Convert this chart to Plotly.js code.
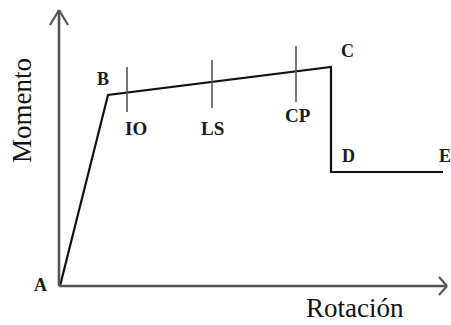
<!DOCTYPE html>
<html>
<head>
<meta charset="utf-8">
<script src="https://cdn.plot.ly/plotly-3.0.1.min.js"></script>
<style>html,body{margin:0;padding:0;background:#fff;}#chart{width:451px;height:325px;}</style>
</head>
<body>
<div id="chart"></div>
<script>
// Curve points A-E (rotation, moment)
const pointLabels = ['A', 'B', 'C', 'D', 'E'];
const rotation = [0, 0.48, 2.71, 2.71, 3.83];
const moment = [0, 1.91, 2.19, 1.14, 1.14];

// Performance levels
const levels = ['IO', 'LS', 'CP'];
const levelRot = [0.67, 1.52, 2.36];
const levelTop = [2.19, 2.26, 2.40];
const levelBottom = [1.74, 1.78, 1.84];

const axisTitleX = 'Rotación';
const axisTitleY = 'Momento';

const serif = 'Liberation Serif, Times New Roman, serif';
const traces = [];

// main curve
traces.push({
  x: rotation, y: moment, mode: 'lines', type: 'scatter',
  line: {color: '#111', width: 2.2}, hoverinfo: 'skip', showlegend: false
});

// level ticks
levels.forEach((lv, i) => {
  traces.push({
    x: [levelRot[i], levelRot[i]], y: [levelBottom[i], levelTop[i]],
    mode: 'lines', type: 'scatter', line: {color: '#555', width: 1.6},
    hoverinfo: 'skip', showlegend: false
  });
});

// label offsets (style, px)
const ptShift = [[-20, 1], [-5, 16], [16, 16], [17, 16], [-6, 16]];
const ptAnchor = ['center', 'center', 'center', 'center', 'left'];
const lvShift = [[9, -16], [0, -20], [2, -13]];

const annotations = [];
pointLabels.forEach((t, i) => {
  annotations.push({
    x: rotation[i], y: moment[i], xref: 'x', yref: 'y', text: '<b>' + t + '</b>',
    showarrow: false, xshift: ptShift[i][0], yshift: ptShift[i][1], xanchor: ptAnchor[i],
    font: {family: serif, size: 18, color: '#1a1a1a'}
  });
});
levels.forEach((t, i) => {
  annotations.push({
    x: levelRot[i], y: levelBottom[i], xref: 'x', yref: 'y', text: '<b>' + t + '</b>',
    showarrow: false, xshift: lvShift[i][0], yshift: lvShift[i][1],
    font: {family: serif, size: 19, color: '#1a1a1a'}
  });
});
annotations.push({
  x: 2.95, y: -0.22, xref: 'x', yref: 'y', text: axisTitleX, showarrow: false,
  font: {family: serif, size: 27, color: '#111'}
});
annotations.push({
  x: -0.38, y: 1.75, xref: 'x', yref: 'y', text: axisTitleY, showarrow: false, textangle: -90,
  font: {family: serif, size: 27, color: '#111'}
});

const axisColor = '#555';
const xTip = 3.87, yTip = 2.76;
const shapes = [
  {type: 'line', xref: 'x', yref: 'y', x0: -0.01, y0: 0, x1: xTip, y1: 0, line: {color: axisColor, width: 2.6}},
  {type: 'line', xref: 'x', yref: 'y', x0: -0.01, y0: 0, x1: -0.01, y1: yTip, line: {color: axisColor, width: 2.6}},
  // arrowheads
  {type: 'line', xref: 'x', yref: 'y', x0: xTip - 0.08, y0: 0.09, x1: xTip, y1: 0, line: {color: axisColor, width: 2.2}},
  {type: 'line', xref: 'x', yref: 'y', x0: xTip - 0.08, y0: -0.09, x1: xTip, y1: 0, line: {color: axisColor, width: 2.2}},
  {type: 'line', xref: 'x', yref: 'y', x0: -0.10, y0: yTip - 0.15, x1: -0.01, y1: yTip, line: {color: axisColor, width: 2.2}},
  {type: 'line', xref: 'x', yref: 'y', x0: 0.08, y0: yTip - 0.15, x1: -0.01, y1: yTip, line: {color: axisColor, width: 2.2}}
];

const layout = {
  width: 451, height: 325,
  margin: {l: 0, r: 0, t: 0, b: 0},
  paper_bgcolor: '#fff', plot_bgcolor: '#fff',
  xaxis: {range: [-0.60, 3.91], visible: false, fixedrange: true},
  yaxis: {range: [-0.39, 2.86], visible: false, fixedrange: true},
  showlegend: false,
  annotations: annotations,
  shapes: shapes
};

Plotly.newPlot('chart', traces, layout, {displayModeBar: false, staticPlot: true});
</script>
</body>
</html>
